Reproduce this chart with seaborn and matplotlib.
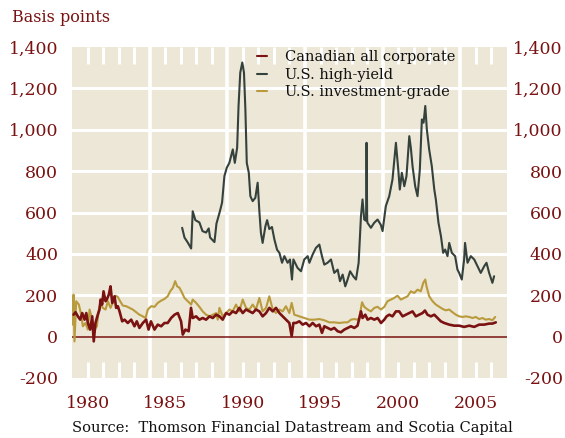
import matplotlib
matplotlib.use("Agg")
import matplotlib.pyplot as plt
import matplotlib.transforms as mtransforms
from matplotlib.lines import Line2D
import seaborn as sns
import pandas as pd

# ---------------- data ----------------
hy_year = [1986.09, 1986.24, 1986.45, 1986.67, 1986.77, 1986.94, 1987.2, 1987.4, 1987.63, 1987.8,
           1987.89, 1988.17, 1988.3, 1988.5, 1988.66, 1988.81, 1988.96, 1989.13, 1989.35, 1989.48,
           1989.63, 1989.72, 1989.83, 1989.96, 1990.07, 1990.16, 1990.25, 1990.38, 1990.48, 1990.63,
           1990.8, 1990.95, 1991.06, 1991.16, 1991.27, 1991.45, 1991.56, 1991.7, 1991.87, 1992.03,
           1992.2, 1992.35, 1992.52, 1992.67, 1992.88, 1993.03, 1993.16, 1993.25, 1993.52, 1993.74,
           1993.95, 1994.17, 1994.28, 1994.49, 1994.7, 1994.92, 1995.09, 1995.24, 1995.45, 1995.67,
           1995.88, 1996.1, 1996.25, 1996.42, 1996.59, 1996.74, 1996.9, 1997.1, 1997.28, 1997.45,
           1997.6, 1997.7, 1997.81, 1997.93, 1997.96, 1998.0, 1998.02, 1998.24, 1998.45, 1998.67,
           1998.88, 1998.99, 1999.2, 1999.42, 1999.63, 1999.85, 2000.0, 2000.1, 2000.23, 2000.39,
           2000.53, 2000.71, 2000.81, 2000.92, 2001.09, 2001.24, 2001.39, 2001.52, 2001.63, 2001.74,
           2001.84, 2001.99, 2002.16, 2002.32, 2002.42, 2002.59, 2002.75, 2002.89, 2003.02, 2003.17,
           2003.28, 2003.45, 2003.66, 2003.81, 2003.92, 2004.09, 2004.24, 2004.3, 2004.46, 2004.67,
           2004.89, 2005.1, 2005.31, 2005.53, 2005.68, 2005.85, 2006.06, 2006.17]
hy_bp = [526, 479, 455, 426, 606, 563, 552, 510, 503, 523,
         479, 457, 547, 600, 648, 776, 816, 840, 905, 840,
         913, 1115, 1276, 1325, 1276, 1099, 840, 792, 679, 655,
         671, 744, 606, 502, 453, 534, 563, 520, 530, 469,
         420, 405, 357, 389, 357, 373, 276, 373, 332, 316,
         373, 389, 357, 397, 429, 445, 389, 348, 357, 373,
         308, 324, 268, 300, 243, 276, 316, 292, 276, 357,
         582, 663, 566, 560, 937, 560, 550, 526, 550, 566,
         540, 510, 631, 679, 760, 937, 808, 711, 792, 727,
         776, 969, 913, 824, 727, 679, 808, 1050, 1034, 1115,
         1002, 905, 824, 711, 663, 550, 485, 405, 421, 389,
         453, 405, 389, 324, 308, 276, 373, 453, 357, 389,
         373, 340, 308, 340, 357, 308, 260, 292]

ig_year = [1979.02, 1979.10, 1979.16, 1979.27, 1979.44, 1979.59, 1979.70, 1979.87, 1980.02, 1980.13,
           1980.30, 1980.45, 1980.60, 1980.73, 1980.84, 1980.98, 1981.16, 1981.31, 1981.48, 1981.63,
           1981.80, 1981.95, 1982.10, 1982.27, 1982.49, 1982.70, 1982.91, 1983.13, 1983.34, 1983.56,
           1983.73, 1983.88, 1984.10, 1984.31, 1984.52, 1984.74, 1984.95, 1985.16, 1985.32, 1985.49,
           1985.64, 1985.77, 1985.92, 1986.09, 1986.24, 1986.45, 1986.67, 1986.77, 1986.99, 1987.20,
           1987.41, 1987.63, 1987.85, 1988.06, 1988.28, 1988.38, 1988.49, 1988.70, 1988.92, 1989.13,
           1989.34, 1989.56, 1989.77, 1989.99, 1990.20, 1990.42, 1990.63, 1990.84, 1991.06, 1991.27,
           1991.49, 1991.70, 1991.92, 1992.13, 1992.35, 1992.56, 1992.77, 1992.99, 1993.14, 1993.31,
           1993.63, 1993.95, 1994.28, 1994.60, 1994.92, 1995.24, 1995.56, 1995.88, 1996.21, 1996.53,
           1996.74, 1996.96, 1997.17, 1997.38, 1997.49, 1997.67, 1997.81, 1998.03, 1998.24, 1998.46,
           1998.67, 1998.89, 1999.10, 1999.31, 1999.53, 1999.74, 1999.95, 2000.17, 2000.39, 2000.60,
           2000.81, 2001.03, 2001.24, 2001.45, 2001.61, 2001.74, 2001.82, 2001.99, 2002.21, 2002.42,
           2002.64, 2002.85, 2003.06, 2003.28, 2003.49, 2003.71, 2003.92, 2004.14, 2004.35, 2004.57,
           2004.78, 2004.99, 2005.21, 2005.42, 2005.63, 2005.85, 2006.06, 2006.24]
ig_bp = [58, 203, -23, 171, 155, 106, 50, 66, 34, 131,
         82, 34, 50, 131, 163, 139, 131, 171, 139, 163,
         198, 192, 171, 150, 147, 139, 131, 118, 106, 98,
         90, 131, 147, 144, 163, 174, 182, 195, 219, 236,
         268, 243, 236, 211, 187, 171, 155, 179, 163, 144,
         122, 106, 98, 106, 114, 82, 139, 98, 114, 131,
         122, 155, 122, 179, 139, 131, 155, 131, 187, 122,
         139, 195, 131, 114, 131, 122, 147, 114, 163, 106,
         98, 90, 82, 82, 85, 79, 69, 69, 66, 69,
         69, 82, 85, 82, 90, 166, 144, 131, 122, 139,
         144, 131, 144, 171, 179, 187, 198, 179, 187, 195,
         219, 211, 227, 219, 260, 276, 243, 195, 171, 155,
         144, 134, 127, 131, 118, 106, 98, 95, 98, 95,
         90, 95, 85, 90, 82, 85, 79, 95]

ca_year = [1979.10, 1979.23, 1979.38, 1979.53, 1979.66, 1979.81, 1979.92, 1980.02, 1980.17, 1980.30,
           1980.40, 1980.51, 1980.66, 1980.77, 1980.84, 1980.94, 1981.03, 1981.16, 1981.24, 1981.37,
           1981.48, 1981.59, 1981.74, 1981.84, 1981.95, 1982.06, 1982.23, 1982.38, 1982.59, 1982.81,
           1983.02, 1983.17, 1983.34, 1983.56, 1983.77, 1983.93, 1984.08, 1984.31, 1984.52, 1984.74,
           1984.95, 1985.16, 1985.38, 1985.60, 1985.81, 1986.02, 1986.13, 1986.30, 1986.51, 1986.66,
           1986.77, 1986.99, 1987.20, 1987.41, 1987.63, 1987.85, 1988.06, 1988.28, 1988.49, 1988.70,
           1988.92, 1989.13, 1989.34, 1989.56, 1989.77, 1989.99, 1990.20, 1990.42, 1990.63, 1990.84,
           1991.06, 1991.27, 1991.49, 1991.70, 1991.92, 1992.13, 1992.35, 1992.56, 1992.77, 1992.99,
           1993.14, 1993.25, 1993.42, 1993.63, 1993.85, 1994.06, 1994.28, 1994.49, 1994.71, 1994.92,
           1995.09, 1995.24, 1995.45, 1995.67, 1995.88, 1996.10, 1996.31, 1996.53, 1996.74, 1996.96,
           1997.17, 1997.38, 1997.60, 1997.70, 1997.88, 1998.03, 1998.24, 1998.46, 1998.67, 1998.89,
           1999.10, 1999.25, 1999.42, 1999.63, 1999.85, 2000.06, 2000.28, 2000.49, 2000.71, 2000.92,
           2001.13, 2001.35, 2001.56, 2001.72, 2001.88, 2002.10, 2002.32, 2002.53, 2002.74, 2002.96,
           2003.28, 2003.60, 2003.92, 2004.24, 2004.57, 2004.89, 2005.21, 2005.53, 2005.85, 2006.06,
           2006.28]
ca_bp = [106, 118, 98, 82, 114, 82, 114, 66, 34, 98,
         -23, 66, 106, 131, 179, 155, 219, 171, 179, 203,
         243, 163, 195, 139, 147, 122, 74, 82, 66, 82,
         50, 74, 42, 66, 82, 34, 74, 34, 58, 50,
         66, 66, 90, 106, 114, 74, 10, 34, 26, 139,
         90, 98, 82, 90, 82, 98, 90, 106, 98, 82,
         114, 106, 122, 114, 139, 114, 131, 122, 114, 131,
         122, 98, 114, 139, 122, 139, 114, 98, 82, 66,
         2, 66, 66, 74, 58, 66, 50, 66, 50, 58,
         18, 50, 42, 34, 42, 26, 21, 34, 42, 50,
         42, 53, 122, 90, 106, 82, 90, 82, 90, 66,
         82, 98, 106, 98, 122, 122, 98, 106, 114, 122,
         98, 106, 114, 126, 106, 98, 106, 90, 74, 66,
         58, 53, 53, 47, 53, 47, 58, 58, 63, 63,
         69]

series_names = ["Canadian all corporate", "U.S. high-yield", "U.S. investment-grade"]
y_ticks = [-200, 0, 200, 400, 600, 800, 1000, 1200, 1400]
x_labels = [1980, 1985, 1990, 1995, 2000, 2005]
grid_years = [1984, 1989, 1994, 1999, 2004]
minor_years = [y for y in range(1980, 2007) if y not in grid_years]

# ---------------- styling ----------------
BG = "#ECE7D6"
RED = "#7A1212"
GREY = "#34413D"
GOLD = "#B99A3C"

sns.set_theme(style="white")
plt.rcParams["font.family"] = ["DejaVu Serif"]

fig = plt.figure(figsize=(5.65, 4.38), dpi=100)
ax = fig.add_axes([72 / 565, 60 / 438, 435 / 565, 331 / 438])
ax.set_facecolor(BG)
for s in ax.spines.values():
    s.set_visible(False)

# grid
for v in y_ticks[2:-1]:
    ax.axhline(v, color="white", lw=2.2, zorder=1)
for g in grid_years:
    ax.axvline(g, color="white", lw=2.6, zorder=1)
# short white year ticks at top and bottom (inside the plot)
blend = mtransforms.blended_transform_factory(ax.transData, ax.transAxes)
ax.vlines(minor_years, 0, 16 / 331, transform=blend, color="white", lw=2.2, zorder=1.5)
ax.vlines(minor_years, 1 - 17 / 331, 1, transform=blend, color="white", lw=2.2, zorder=1.5)

df_ig = pd.DataFrame({"year": ig_year, "bp": ig_bp})
df_ca = pd.DataFrame({"year": ca_year, "bp": ca_bp})
df_hy = pd.DataFrame({"year": hy_year, "bp": hy_bp})

sns.lineplot(data=df_ig, x="year", y="bp", ax=ax, color=GOLD, lw=1.5,
             estimator=None, sort=False, zorder=3)
sns.lineplot(data=df_ca, x="year", y="bp", ax=ax, color=RED, lw=1.9,
             estimator=None, sort=False, zorder=4)
sns.lineplot(data=df_hy, x="year", y="bp", ax=ax, color=GREY, lw=1.5,
             estimator=None, sort=False, zorder=5)

ax.axhline(0, color=RED, lw=1.1, zorder=2)

ax.set_xlim(1979, 2007)
ax.set_ylim(-200, 1400)
ax.set_xlabel("")
ax.set_ylabel("")

ax.set_yticks(y_ticks)
ax.set_yticklabels([f"{v:,}" for v in y_ticks])
ax.set_xticks(x_labels)
ax.set_xticklabels([str(v) for v in x_labels])
ax.tick_params(axis="x", which="major", length=0, pad=12, labelsize=12.5, labelcolor=RED)
ax.tick_params(axis="y", which="major", length=0, labelsize=12.5, labelcolor=RED,
               left=False, right=False, labelleft=True, labelright=True, pad=10)
shift = mtransforms.ScaledTranslation(42 / 100, 0, fig.dpi_scale_trans)
for t in ax.yaxis.get_major_ticks():
    t.label2.set_horizontalalignment("right")
    t.label2.set_transform(t.label2.get_transform() + shift)

# legend
handles = [Line2D([], [], color=RED, lw=1.5),
           Line2D([], [], color=GREY, lw=1.5),
           Line2D([], [], color=GOLD, lw=1.5)]
leg = ax.legend(handles, series_names, loc="upper left", bbox_to_anchor=(0.395, 1.03),
                frameon=False, handlelength=0.7, handletextpad=1.2, labelspacing=0.25,
                fontsize=10.5)
for t in leg.get_texts():
    t.set_color("#111111")

fig.text(12 / 565, 1 - 18 / 438, "Basis points", color=RED, fontsize=11.5, va="center", ha="left")
fig.text(292 / 565, 1 - 428 / 438, "Source:  Thomson Financial Datastream and Scotia Capital",
         color="#111111", fontsize=10.5, va="center", ha="center")

fig.savefig("out.png", dpi=100)
